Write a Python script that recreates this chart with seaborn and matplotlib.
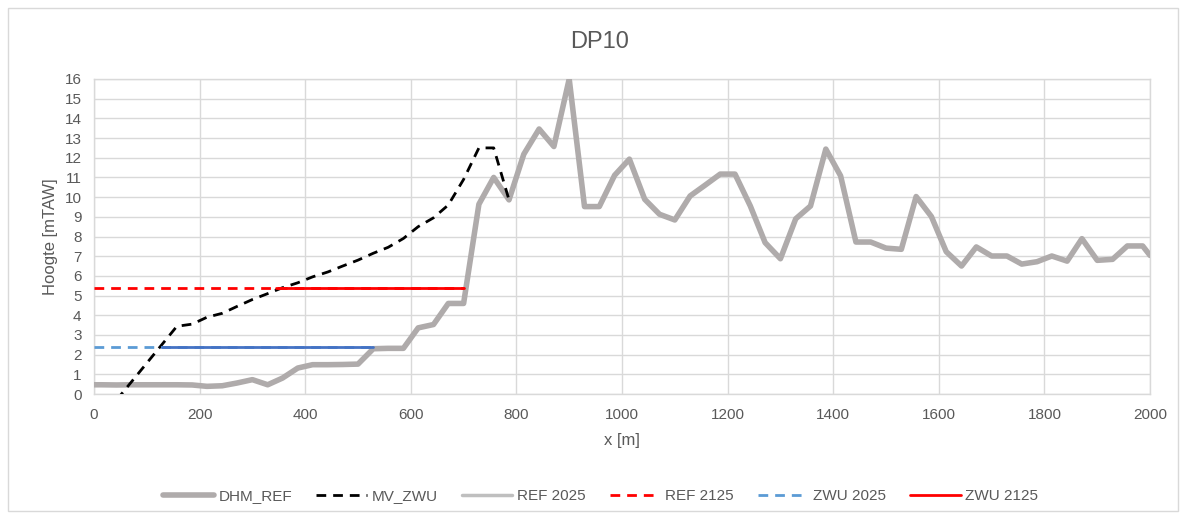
import matplotlib
matplotlib.use("Agg")
import matplotlib.pyplot as plt
import seaborn as sns
from matplotlib.patches import Rectangle

# DHM_REF terrain profile (x in m, hoogte in mTAW)
dhm_x = [0, 14, 43, 71, 100, 129, 157, 186, 214, 243, 271, 300, 329, 357, 386,
         414, 443, 471, 500, 529, 557, 586, 614, 643, 671, 700, 729, 757, 786,
         814, 843, 871, 900, 929, 957, 986, 1014, 1043, 1071, 1100, 1129, 1157,
         1186, 1214, 1243, 1271, 1300, 1329, 1357, 1386, 1414, 1443, 1471, 1500,
         1529, 1557, 1586, 1614, 1643, 1671, 1700, 1729, 1757, 1786, 1814, 1843,
         1871, 1900, 1929, 1957, 1986, 2000]
dhm_y = [0.47, 0.47, 0.46, 0.47, 0.47, 0.47, 0.47, 0.46, 0.39, 0.42, 0.56, 0.73,
         0.47, 0.81, 1.32, 1.49, 1.49, 1.50, 1.52, 2.30, 2.32, 2.32, 3.36, 3.53,
         4.60, 4.60, 9.64, 11.0, 9.86, 12.18, 13.46, 12.57, 16.0, 9.52, 9.52,
         11.11, 11.93, 9.89, 9.13, 8.84, 10.06, 10.6, 11.17, 11.17, 9.55, 7.69,
         6.87, 8.9, 9.55, 12.44, 11.08, 7.72, 7.72, 7.41, 7.35, 10.03, 9.01,
         7.23, 6.5, 7.47, 7.01, 7.01, 6.6, 6.72, 7.01, 6.75, 7.89, 6.79, 6.84,
         7.52, 7.52, 7.04]

# MV_ZWU dike profile
mv_x = [43, 157, 186, 214, 243, 271, 300, 329, 357, 386, 414, 443, 471, 500,
        529, 557, 586, 614, 643, 671, 700, 729, 757, 786]
mv_y = [-0.3, 3.44, 3.55, 3.9, 4.1, 4.45, 4.8, 5.1, 5.4, 5.65, 5.95, 6.2, 6.5,
        6.8, 7.15, 7.45, 7.9, 8.5, 8.95, 9.6, 10.9, 12.5, 12.5, 9.86]

# water levels
ref2125_x, ref2125_y = [0, 700], [5.4, 5.4]
zwu2125_x, zwu2125_y = [345, 700], [5.4, 5.4]
zwu2025_x, zwu2025_y = [0, 529], [2.4, 2.4]
zwu2025_solid_x, zwu2025_solid_y = [128, 529], [2.4, 2.4]

sns.set_style("white")
plt.rcParams['font.family'] = ['Liberation Sans', 'DejaVu Sans']
txt = '#595959'
grid_c = '#D9D9D9'
dash = [3.5, 2.5]

fig = plt.figure(figsize=(11.85, 5.19), dpi=100)
ax = fig.add_axes([0.0793, 0.2408, 0.8912, 0.607])

sns.lineplot(x=dhm_x, y=dhm_y, ax=ax, color='#AFABAB', lw=4, label='DHM_REF',
             sort=False, zorder=3)
sns.lineplot(x=mv_x, y=mv_y, ax=ax, color='black', lw=2, label='MV_ZWU',
             sort=False, zorder=4)
ax.lines[-1].set_dashes(dash)
sns.lineplot(x=dhm_x, y=dhm_y, ax=ax, color='#BFBFBF', lw=2.5, label='REF 2025',
             sort=False, zorder=2)
sns.lineplot(x=ref2125_x, y=ref2125_y, ax=ax, color='#FF0000', lw=2,
             label='REF 2125', zorder=5)
ax.lines[-1].set_dashes(dash)
sns.lineplot(x=zwu2025_x, y=zwu2025_y, ax=ax, color='#5B9BD5', lw=2,
             label='ZWU 2025', zorder=5)
ax.lines[-1].set_dashes(dash)
sns.lineplot(x=zwu2125_x, y=zwu2125_y, ax=ax, color='#FF0000', lw=2,
             label='ZWU 2125', zorder=6)
sns.lineplot(x=zwu2025_solid_x, y=zwu2025_solid_y, ax=ax, color='#4472C4', lw=2,
             label='_nolegend_', zorder=6)

ax.set_xlim(0, 2000)
ax.set_ylim(0, 16)
ax.set_xticks(range(0, 2001, 200))
ax.set_yticks(range(0, 17))
ax.grid(True, color=grid_c, lw=1)
for s in ax.spines.values():
    s.set_color(grid_c)
    s.set_linewidth(1)
ax.tick_params(length=0, labelsize=11, colors=txt)
ax.tick_params(axis='y', pad=9)
ax.tick_params(axis='x', pad=10)
ax.set_xlabel('x [m]', fontsize=12, color=txt, labelpad=8)
ax.set_ylabel('Hoogte [mTAW]', fontsize=12, color=txt, labelpad=5)
fig.text(0.506, 0.92, 'DP10', fontsize=17, color=txt, ha='center', va='center')

leg = ax.legend(loc='center', bbox_to_anchor=(0.48, -0.325), ncol=6,
                frameon=False, fontsize=11, labelcolor=txt, handlelength=3.3,
                columnspacing=1.6, handletextpad=0.3)

fig.patches.append(Rectangle((0.007, 0.015), 0.987, 0.97, transform=fig.transFigure,
                             fill=False, edgecolor=grid_c, lw=1))

fig.savefig('out.png', dpi=100)
